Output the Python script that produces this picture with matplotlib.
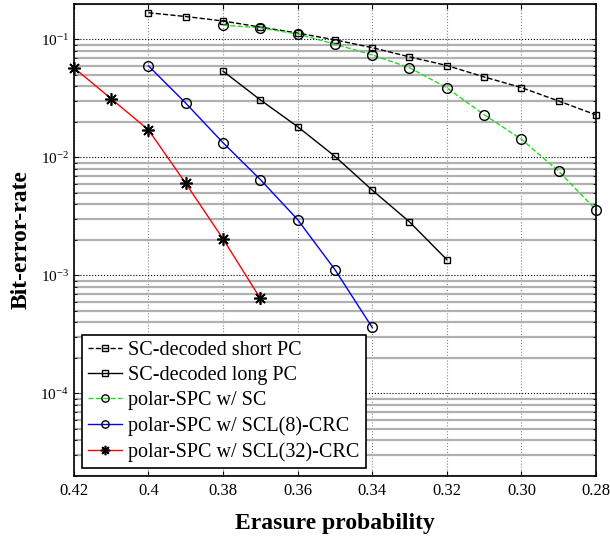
import matplotlib
matplotlib.use("Agg")
import matplotlib.pyplot as plt
import matplotlib.ticker as mticker

plt.rcParams["font.family"] = ["Liberation Serif", "DejaVu Serif"]
plt.rcParams["mathtext.fontset"] = "custom"
plt.rcParams["mathtext.rm"] = "Liberation Serif"
plt.rcParams["mathtext.it"] = "Liberation Serif:italic"

# ---- data ----
x_short = [0.40, 0.39, 0.38, 0.37, 0.36, 0.35, 0.34, 0.33, 0.32, 0.31, 0.30, 0.29, 0.28]
ber_short = [0.168, 0.156, 0.143, 0.127, 0.113, 0.099, 0.085, 0.071, 0.060, 0.048, 0.039, 0.030, 0.0229]

x_long = [0.38, 0.37, 0.36, 0.35, 0.34, 0.33, 0.32]
ber_long = [0.0538, 0.0307, 0.0182, 0.0102, 0.00528, 0.00284, 0.00136]

x_spc_sc = [0.38, 0.37, 0.36, 0.35, 0.34, 0.33, 0.32, 0.31, 0.30, 0.29, 0.28]
ber_spc_sc = [0.132, 0.125, 0.111, 0.091, 0.0738, 0.0575, 0.0389, 0.023, 0.01425, 0.00763, 0.00359]

x_scl8 = [0.40, 0.39, 0.38, 0.37, 0.36, 0.35, 0.34]
ber_scl8 = [0.0596, 0.0288, 0.0133, 0.00649, 0.00297, 0.00112, 0.000362]

x_scl32 = [0.42, 0.41, 0.40, 0.39, 0.38, 0.37]
ber_scl32 = [0.0575, 0.0314, 0.0171, 0.00603, 0.00204, 0.000638]

xticks = [0.42, 0.40, 0.38, 0.36, 0.34, 0.32, 0.30, 0.28]
xticklabels = ["0.42", "0.4", "0.38", "0.36", "0.34", "0.32", "0.30", "0.28"]

# ---- figure ----
fig = plt.figure(figsize=(6.1, 5.42), dpi=100)
ax = fig.add_axes([0.121, 0.122, 0.856, 0.871])

# MATLAB style asterisk marker
asterisk = (8, 2, 0)

ax.plot(x_short, ber_short, "k--", marker="s", ms=5, mfc="none", mec="k",
        lw=1, clip_on=False, label="SC-decoded short PC")
ax.plot(x_long, ber_long, "k-", marker="s", ms=5, mfc="none", mec="k",
        lw=1, clip_on=False, label="SC-decoded long PC")
ax.plot(x_spc_sc, ber_spc_sc, color="#22dd22", ls="--", marker="o", ms=7,
        mfc="none", mec="k", lw=1, clip_on=False, label="polar-SPC w/ SC")
ax.plot(x_scl8, ber_scl8, color="#0000ff", ls="-", marker="o", ms=7,
        mfc="none", mec="k", lw=1, clip_on=False, label="polar-SPC w/ SCL(8)-CRC")
ax.plot(x_scl32, ber_scl32, color="#ff0000", ls="-", marker=asterisk, ms=9,
        mec="k", mew=1.2, lw=1, clip_on=False, label="polar-SPC w/ SCL(32)-CRC")

ax.set_yscale("log")
ax.set_ylim(2e-5, 0.2)
ax.set_xlim(0.42, 0.28)
ax.set_xticks(xticks)
ax.set_xticklabels(xticklabels)
ax.yaxis.set_major_locator(mticker.FixedLocator([1e-4, 1e-3, 1e-2, 1e-1]))
ax.yaxis.set_major_formatter(mticker.FixedFormatter(
    [r"$10^{-4}$", r"$10^{-3}$", r"$10^{-2}$", r"$10^{-1}$"]))
ax.yaxis.set_minor_locator(mticker.LogLocator(base=10, subs=range(2, 10)))
ax.yaxis.set_minor_formatter(mticker.NullFormatter())

# grids: gray minor, dotted major
ax.grid(True, which="minor", axis="y", color="#b0b0b0", lw=1.6, ls="-")
ax.grid(True, which="major", axis="y", color="k", lw=0.8, ls=":")
ax.grid(True, which="major", axis="x", color="#888888", lw=0.8, ls=":")
ax.set_axisbelow(True)

ax.tick_params(which="both", direction="in", top=True, right=True)
ax.tick_params(axis="x", labelsize=12, pad=5)
ax.tick_params(axis="y", labelsize=11)
for s in ax.spines.values():
    s.set_linewidth(1.2)

ax.set_xlabel("Erasure probability", fontsize=17, fontweight="bold", labelpad=10)
ax.set_ylabel("Bit-error-rate", fontsize=17, fontweight="bold", labelpad=6)

leg = ax.legend(loc="lower left", fontsize=14.5, fancybox=False, framealpha=1,
                edgecolor="k", borderpad=0.3, labelspacing=0.3, markerscale=0.75,
                handlelength=1.7, handletextpad=0.3, borderaxespad=0.4)
leg.get_frame().set_linewidth(1.2)

fig.savefig("out.png", dpi=100)
